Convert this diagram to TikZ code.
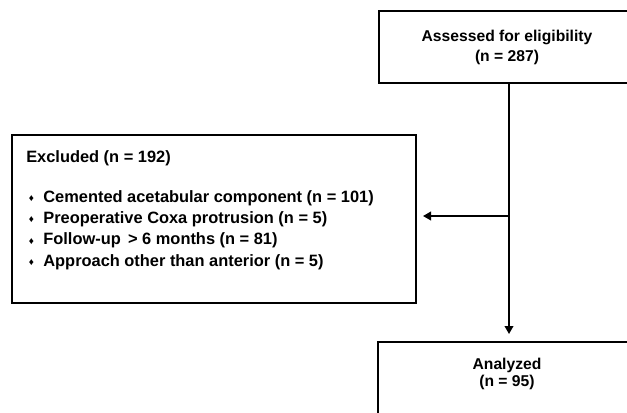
\documentclass[tikz,border=0pt]{standalone}
\usepackage{fontspec}
\setmainfont{Liberation Sans}
\usetikzlibrary{arrows.meta}

\newcommand{\dmd}{\hspace{2pt}{\fontsize{7.5}{7.5}\selectfont\raisebox{0.6pt}{♦}}\hspace{7pt}}

\begin{document}
\begin{tikzpicture}[x=0.75pt,y=0.75pt,yscale=-1,xscale=1,
  font=\fontsize{11.75}{15}\selectfont\bfseries,
  box/.style={draw,line width=1.5pt,inner sep=0pt},
  flow/.style={line width=1.2pt,-{Triangle[length=6pt,width=6.5pt]}}]
\useasboundingbox (0,0) rectangle (627,412);
\clip (0,0) rectangle (627,412);

%Shape: Rectangle [assessed]
\node [box,minimum width=192pt,minimum height=54pt,align=center] (assess) at (507,47) {Assessed for eligibility\\(n = 287)};
%Shape: Rectangle [excluded]
\node [box,minimum width=303pt,minimum height=126pt] (excl) at (214,219) {};
%Shape: Rectangle [analyzed]
\node [box,minimum width=193.5pt,minimum height=66pt] (analyzed) at (507,386) {};

% Text Node
\node [anchor=north west,inner sep=0pt,align=left,font=\fontsize{12.3}{16}\selectfont\bfseries] (excltext) at (26,150)
  {Excluded (n = 192)\\[14pt]
   \dmd Cemented acetabular component (n = 101)\\
   \dmd Preoperative Coxa protrusion (n = 5)\\
   \dmd Follow-up\, \textgreater{} 6 months (n = 81)\\
   \dmd Approach other than anterior (n = 5)};
% Text Node
\node [inner sep=0pt,align=center,font=\fontsize{11.75}{12.5}\selectfont\bfseries] (analyzedtext) at (507,374) {Analyzed\\(n = 95)};

%Straight Lines
\coordinate (branch) at (509,216);
\draw [flow,shorten >=5.25pt] (assess.south -| branch) -- (analyzed.north -| branch);
\draw [flow,shorten >=4.5pt] (branch) -- (excl.east |- branch);

\end{tikzpicture}
\end{document}
